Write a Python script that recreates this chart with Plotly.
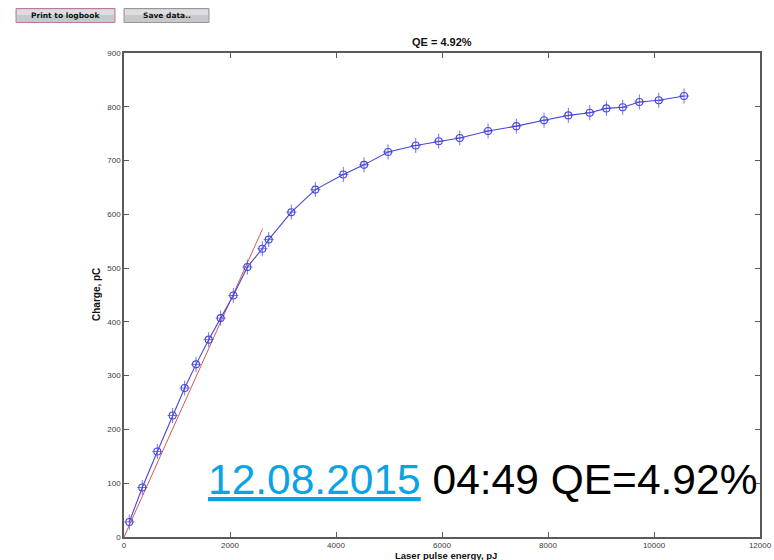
import plotly.graph_objects as go

# Measured charge versus laser pulse energy
energy_pj = [100, 345, 629, 918, 1145, 1359, 1598, 1824, 2063, 2327, 2610, 2730,
             3157, 3610, 4138, 4529, 4982, 5504, 5938, 6335, 6869, 7403, 7925,
             8384, 8788, 9101, 9410, 9724, 10090, 10567]
charge_pc = [28, 92, 159, 226, 277, 321, 367, 407, 449, 502, 536, 553,
             604, 646, 674, 692, 716, 728, 736, 742, 755, 764, 775,
             784, 789, 797, 799, 809, 812, 820]
charge_err = [14] * len(charge_pc)
energy_err = [95] * len(energy_pj)

# Linear fit of the low-energy part
fit_energy = [0, 2615]
fit_charge = [0, 573]

x_ticks = [0, 2000, 4000, 6000, 8000, 10000, 12000]
y_ticks = [0, 100, 200, 300, 400, 500, 600, 700, 800, 900]

W, H = 774, 560
L, R, T, B = 124, 14, 53, 23
pw, ph = W - L - R, H - T - B


def px(x):
    return (x - L) / pw


def py(y):
    return (H - B - y) / ph


FONT = "Arial, Liberation Sans, sans-serif"
BLUE = "rgb(70,70,218)"

fig = go.Figure()
fig.add_trace(go.Scatter(
    x=fit_energy, y=fit_charge, mode="lines",
    line=dict(color="rgb(210,90,80)", width=1),
    hoverinfo="skip", showlegend=False,
))
fig.add_trace(go.Scatter(
    x=energy_pj, y=charge_pc, mode="lines+markers",
    line=dict(color=BLUE, width=1.1),
    marker=dict(symbol="circle-open", size=7, color=BLUE, line=dict(width=1.1)),
    error_y=dict(type="data", array=charge_err, color="rgba(70,70,218,0.75)",
                 thickness=1, width=0),
    error_x=dict(type="data", array=energy_err, color="rgba(70,70,218,0.75)",
                 thickness=1, width=0),
    showlegend=False,
))

axis_common = dict(
    showgrid=False, zeroline=False, showline=True, mirror="allticks",
    linecolor="#5a5a5a", linewidth=1.5, ticks="inside", ticklen=5,
    tickcolor="#5a5a5a", tickwidth=1, automargin=False,
    tickfont=dict(family=FONT, size=8, color="#3a3a3a"),
)

fig.update_xaxes(range=[0, 12000], tickvals=x_ticks,
                 ticktext=[str(v) for v in x_ticks], **axis_common)
fig.update_yaxes(range=[0, 900], tickvals=y_ticks,
                 ticktext=[str(v) for v in y_ticks], **axis_common)

shapes = []
annotations = []

# Panel buttons above the plot
buttons = [
    ("Print to logbook", 16, 115, "rgb(190,120,160)"),
    ("Save data..", 124, 209, "rgb(150,150,150)"),
]
for label, x0, x1, border in buttons:
    shapes.append(dict(type="rect", xref="paper", yref="paper",
                       x0=px(x0), x1=px(x1), y0=py(22.5), y1=py(8.5),
                       fillcolor="rgb(200,200,204)",
                       line=dict(color=border, width=1)))
    shapes.append(dict(type="rect", xref="paper", yref="paper",
                       x0=px(x0 + 1), x1=px(x1 - 1), y0=py(15), y1=py(9.5),
                       fillcolor="rgb(222,222,226)", line=dict(width=0)))
    annotations.append(dict(text=f"<b>{label}</b>", xref="paper", yref="paper",
                            x=px((x0 + x1) / 2), y=py(15.5), showarrow=False,
                            xanchor="center", yanchor="middle",
                            font=dict(family="DejaVu Sans, sans-serif", size=7.5,
                                      color="#111")))

annotations += [
    dict(text="<b>QE = 4.92%</b>", xref="paper", yref="paper",
         x=px(442), y=py(42), showarrow=False, xanchor="center", yanchor="middle",
         font=dict(family=FONT, size=11, color="#111")),
    dict(text="<b>Laser pulse energy, pJ</b>", xref="paper", yref="paper",
         x=px(446), y=py(555), showarrow=False, xanchor="center", yanchor="middle",
         font=dict(family=FONT, size=9.5, color="#111")),
    dict(text="<b>Charge, pC</b>", xref="paper", yref="paper",
         x=px(96), y=py(295), showarrow=False, xanchor="center", yanchor="middle",
         textangle=-90, font=dict(family=FONT, size=10, color="#111")),
    dict(text="<span style='color:#0aa3e6'><u>12.08.2015</u></span> 04:49 QE=4.92%",
         xref="paper", yref="paper", x=px(206), y=py(479), showarrow=False,
         xanchor="left", yanchor="middle",
         font=dict(family=FONT, size=42.5, color="#000")),
]

fig.update_layout(
    width=W, height=H, autosize=False,
    margin=dict(l=L, r=R, t=T, b=B, autoexpand=False),
    plot_bgcolor="white", paper_bgcolor="white",
    shapes=shapes, annotations=annotations,
)

fig.write_html("out.html", config={"responsive": False})
